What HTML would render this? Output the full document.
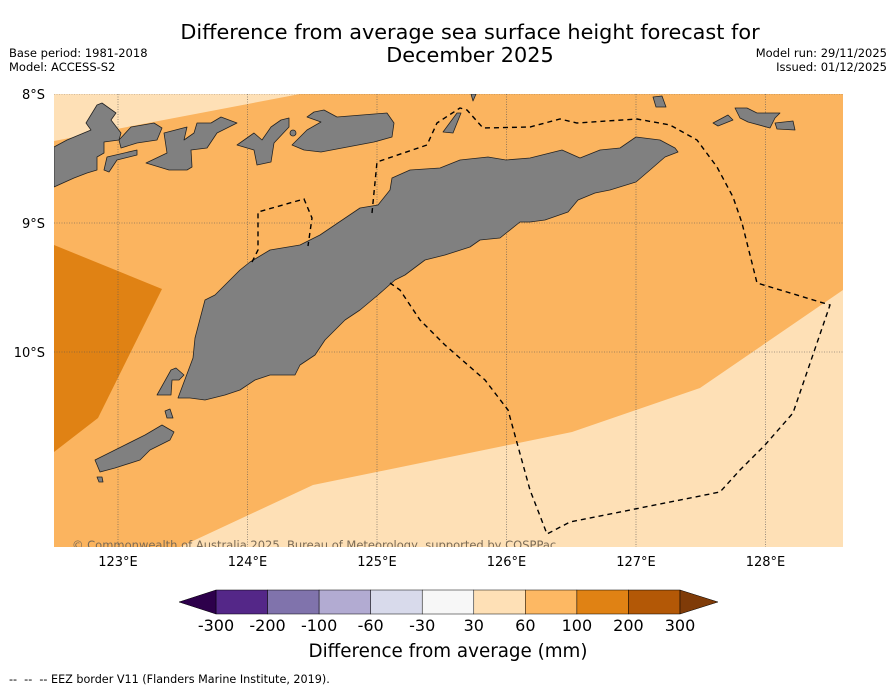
<!DOCTYPE html>
<html><head><meta charset="utf-8">
<style>
body{margin:0;background:#fff;font-family:"DejaVu Sans","Liberation Sans",sans-serif;}
#wrap{position:relative;width:896px;height:690px;overflow:hidden;}
</style></head>
<body>
<div id="wrap">
<svg id="svg" width="896" height="690" xmlns="http://www.w3.org/2000/svg" font-family="DejaVu Sans, Liberation Sans, sans-serif">
<text x="470" y="39" font-size="20.8" text-anchor="middle">Difference from average sea surface height forecast for</text>
<text x="470" y="62" font-size="20.8" text-anchor="middle">December 2025</text>
<text x="9" y="57" font-size="11.5">Base period: 1981-2018</text>
<text x="9" y="71" font-size="11.5">Model: ACCESS-S2</text>
<text x="887" y="57" font-size="11.5" text-anchor="end">Model run: 29/11/2025</text>
<text x="887" y="71" font-size="11.5" text-anchor="end">Issued: 01/12/2025</text>

<clipPath id="mapclip"><rect x="54" y="94" width="789" height="453"/></clipPath>
<g id="map" clip-path="url(#mapclip)">
  <rect x="54" y="94" width="789" height="453" fill="#fbb45f"/>
  <polygon points="54,94 300,94 54,141" fill="#fee0b6"/>
  <polygon points="54,245 162,289 98,418 54,452" fill="#e08214"/>
  <polygon points="180,547 313,485 572,432 700,388 843,290 843,547" fill="#fee0b6"/>
  <g id="grid" stroke="#555" stroke-width="0.6" stroke-dasharray="1,1.5" fill="none"></g>
  <g fill="#808080" stroke="#222" stroke-width="0.8" stroke-linejoin="round">
    <polygon points="178,398 193,358 195,338 205,300 215,295 240,270 250,262 270,250 300,245 320,235 360,208 378,205 390,190 392,178 410,170 440,168 460,160 488,157 506,160 530,158 550,153 562,150 580,158 600,150 620,148 636,137 660,140 675,148 678,152 665,157 650,170 636,182 610,190 595,193 578,200 568,212 545,220 530,222 520,222 500,238 480,240 470,247 445,255 425,260 405,275 395,280 378,295 360,310 345,320 325,340 315,355 300,365 295,375 270,375 255,380 240,390 225,395 205,400 190,398"/>
    <polygon points="54,147 67,140 91,130 86,123 97,105 102,103 116,113 111,120 121,133 119,140 104,142 104,153 97,157 97,170 87,173 74,178 54,187"/>
    <polygon points="119,140 131,127 154,123 162,128 157,140 137,143 121,148"/>
    <polygon points="104,170 107,157 137,150 137,155 117,160 109,172"/>
    <polygon points="146,163 167,153 164,133 187,127 184,140 194,133 197,123 211,123 221,117 237,123 217,133 207,148 191,150 192,167 187,170 169,170"/>
    <polygon points="237,145 254,133 262,140 271,127 281,120 289,118 289,127 274,143 271,162 257,165 254,150"/>
    <polygon points="292,145 307,130 321,122 307,117 314,112 324,110 337,117 387,113 394,123 392,137 374,142 321,152 304,150"/>
    <circle cx="293" cy="133" r="3"/>
    <polygon points="443,132 457,113 461,113 453,133"/>
    <polygon points="471,94 476,94 473,101"/>
    <polygon points="653,97 662,96 666,107 656,107"/>
    <polygon points="713,123 728,115 733,120 718,126"/>
    <polygon points="735,108 747,108 757,113 780,113 775,118 770,128 748,122 740,118"/>
    <polygon points="775,123 793,121 795,130 777,129"/>
    <polygon points="157,395 171,370 176,368 184,375 179,380 172,380 171,395"/>
    <polygon points="95,460 125,445 145,435 162,425 174,432 170,440 150,450 140,460 115,468 100,472"/>
    <polygon points="165,411 170,409 173,418 167,418"/>
    <polygon points="97,477 102,477 103,482 99,482"/>
  </g>
  <g stroke="#000" stroke-width="1.4" stroke-dasharray="5,4" fill="none">
    <polyline points="252,262 258,250 258,212 304,199 312,218 308,246"/>
    <polyline points="372,213 377,162 427,145 437,123 460,108 467,110 483,128 530,127 560,119 577,123 637,119 670,125 697,140 717,167 733,197 742,223 757,283 830,305 793,413 765,445 740,470 720,492 570,522 547,534 530,490 508,410 485,380 445,345 420,320 400,290 390,283"/>
  </g>
  <text x="72" y="549" font-size="11.5" fill="#7a6a55">© Commonwealth of Australia 2025, Bureau of Meteorology, supported by COSPPac</text>
</g>
<g id="axes" font-size="13"></g>
<g id="cbar"></g>
<text x="448" y="657" font-size="18.3" text-anchor="middle">Difference from average (mm)</text>
<text x="9" y="683" font-size="11.2" xml:space="preserve">--  --  -- EEZ border V11 (Flanders Marine Institute, 2019).</text>
</svg>
</div>
<script>
const lonTicks=[123,124,125,126,127,128];
const latTicks=[8,9,10];
const levels=[-300,-200,-100,-60,-30,30,60,100,200,300];
const binColors=["#542788","#8073ac","#b2abd2","#d8daeb","#f7f7f7","#fee0b6","#fdb863","#e08214","#b35806"];
const extColors=["#2d004b","#7f3b08"];
const NS="http://www.w3.org/2000/svg";
function lonX(l){return 118+(l-123)*129.5;}
function latY(l){return 94+(l-8)*129;}
function mk(t,a,p){const e=document.createElementNS(NS,t);for(const k in a)e.setAttribute(k,a[k]);p.appendChild(e);return e;}
const grid=document.getElementById('grid');
lonTicks.forEach(l=>{const e=mk('line',{x1:lonX(l),x2:lonX(l),y1:94,y2:547},grid);

});
latTicks.forEach(l=>{const e=mk('line',{x1:54,x2:843,y1:latY(l),y2:latY(l)},grid);

});
const ax=document.getElementById('axes');
lonTicks.forEach(l=>{const t=mk('text',{x:lonX(l),y:566,'text-anchor':'middle'},ax);t.textContent=l+'°E';

});
latTicks.forEach(l=>{const t=mk('text',{x:45,y:latY(l)+5,'text-anchor':'end'},ax);t.textContent=l+'°S';

});
const cb=document.getElementById('cbar');
const cx0=216,cx1=680,cy=590,ch=24,bw=(cx1-cx0)/binColors.length;
binColors.forEach((c,i)=>{const r=mk('rect',{x:cx0+i*bw,y:cy,width:bw,height:ch,fill:c,stroke:'#000','stroke-width':0.5},cb);

});
const la=mk('polygon',{points:`${cx0},${cy} 179,${cy+ch/2} ${cx0},${cy+ch}`,fill:extColors[0],stroke:'#000','stroke-width':0.5},cb);


const ra=mk('polygon',{points:`${cx1},${cy} 718,${cy+ch/2} ${cx1},${cy+ch}`,fill:extColors[1],stroke:'#000','stroke-width':0.5},cb);


levels.forEach((v,i)=>{const t=mk('text',{x:cx0+i*bw,y:631,'font-size':16,'text-anchor':'middle'},cb);t.textContent=v;

});
</script>
</body></html>
